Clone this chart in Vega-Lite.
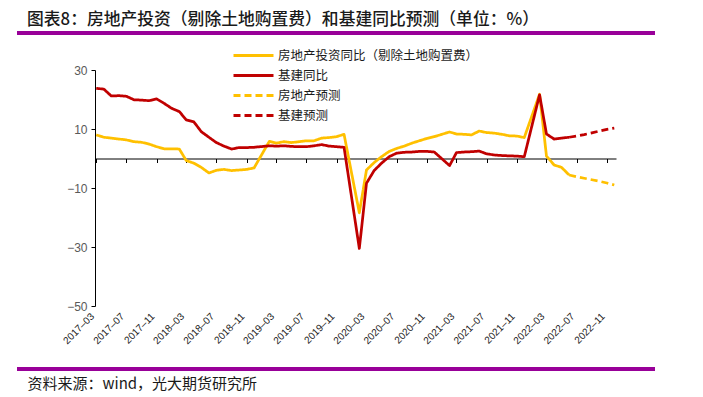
{
  "$schema": "https://vega.github.io/schema/vega-lite/v6.json",
  "width": 521,
  "height": 236,
  "autosize": {"type": "none"},
  "padding": {"left": 95, "top": 70, "right": 87, "bottom": 91},
  "background": "white",
  "title": {
    "text": "图表8：房地产投资（剔除土地购置费）和基建同比预测（单位：%）",
    "anchor": "start",
    "frame": "group",
    "dx": -68,
    "offset": 3,
    "font": "Noto Sans CJK SC",
    "fontSize": 16.8,
    "fontWeight": 500,
    "color": "#1a1a1a"
  },
  "config": {
    "view": {"stroke": null},
    "font": "Liberation Sans",
    "axis": {"labelOverlap": false},
    "axisX": {"labelOverlap": false, "labelSeparation": 0}
  },
  "data": {
    "values": [
      {"d": "2017-03-01", "re": 8.0, "inf": 23.8},
      {"d": "2017-04-01", "re": 7.2, "inf": 23.5},
      {"d": "2017-05-01", "re": 6.9, "inf": 21.2},
      {"d": "2017-06-01", "re": 6.6, "inf": 21.3},
      {"d": "2017-07-01", "re": 6.3, "inf": 21.1},
      {"d": "2017-08-01", "re": 5.7, "inf": 19.9},
      {"d": "2017-09-01", "re": 5.5, "inf": 19.8},
      {"d": "2017-10-01", "re": 4.9, "inf": 19.6},
      {"d": "2017-11-01", "re": 4.0, "inf": 20.2},
      {"d": "2017-12-01", "re": 3.3, "inf": 18.7},
      {"d": "2018-01-01", "re": 3.3, "inf": 17.0},
      {"d": "2018-02-01", "re": 3.2, "inf": 15.9},
      {"d": "2018-03-01", "re": -0.7, "inf": 13.1},
      {"d": "2018-04-01", "re": -1.6, "inf": 12.4},
      {"d": "2018-05-01", "re": -3.0, "inf": 9.1},
      {"d": "2018-06-01", "re": -4.9, "inf": 7.2},
      {"d": "2018-07-01", "re": -4.0, "inf": 5.4},
      {"d": "2018-08-01", "re": -3.7, "inf": 4.2},
      {"d": "2018-09-01", "re": -4.1, "inf": 3.2},
      {"d": "2018-10-01", "re": -3.9, "inf": 3.7},
      {"d": "2018-11-01", "re": -3.7, "inf": 3.7},
      {"d": "2018-12-01", "re": -3.2, "inf": 3.8},
      {"d": "2019-02-01", "re": 5.8, "inf": 4.3},
      {"d": "2019-03-01", "re": 5.2, "inf": 4.2},
      {"d": "2019-04-01", "re": 5.7, "inf": 4.3},
      {"d": "2019-05-01", "re": 5.4, "inf": 4.1},
      {"d": "2019-06-01", "re": 5.7, "inf": 4.0},
      {"d": "2019-07-01", "re": 6.0, "inf": 4.0},
      {"d": "2019-08-01", "re": 6.0, "inf": 4.3},
      {"d": "2019-09-01", "re": 6.9, "inf": 4.7},
      {"d": "2019-10-01", "re": 7.1, "inf": 4.2},
      {"d": "2019-11-01", "re": 7.4, "inf": 4.0},
      {"d": "2019-12-01", "re": 8.2, "inf": 3.8},
      {"d": "2020-02-01", "re": -18.4, "inf": -30.5},
      {"d": "2020-03-01", "re": -3.9, "inf": -8.4},
      {"d": "2020-04-01", "re": -1.4, "inf": -4.1},
      {"d": "2020-05-01", "re": 0.6, "inf": -1.6},
      {"d": "2020-06-01", "re": 2.4, "inf": 0.6},
      {"d": "2020-07-01", "re": 3.4, "inf": 1.8},
      {"d": "2020-08-01", "re": 4.2, "inf": 2.1},
      {"d": "2020-09-01", "re": 5.2, "inf": 2.2},
      {"d": "2020-10-01", "re": 6.0, "inf": 2.4},
      {"d": "2020-11-01", "re": 6.8, "inf": 2.4},
      {"d": "2020-12-01", "re": 7.4, "inf": 2.2},
      {"d": "2021-02-01", "re": 9.0, "inf": -2.4},
      {"d": "2021-03-01", "re": 8.3, "inf": 2.0},
      {"d": "2021-04-01", "re": 8.2, "inf": 2.2},
      {"d": "2021-05-01", "re": 8.0, "inf": 2.3},
      {"d": "2021-06-01", "re": 9.3, "inf": 2.5},
      {"d": "2021-07-01", "re": 8.8, "inf": 1.6},
      {"d": "2021-08-01", "re": 8.6, "inf": 1.2},
      {"d": "2021-09-01", "re": 8.2, "inf": 1.0},
      {"d": "2021-10-01", "re": 7.7, "inf": 0.9},
      {"d": "2021-11-01", "re": 7.6, "inf": 0.8},
      {"d": "2021-12-01", "re": 7.1, "inf": 0.6},
      {"d": "2022-02-01", "re": 21.8, "inf": 21.6},
      {"d": "2022-03-01", "re": 0.8, "inf": 8.3},
      {"d": "2022-04-01", "re": -2.2, "inf": 6.6},
      {"d": "2022-05-01", "re": -3.0, "inf": 6.9},
      {"d": "2022-06-01", "re": -5.6, "inf": 7.2, "ref": -5.6, "inff": 7.2},
      {"d": "2022-07-01", "ref": -6.2, "inff": 7.6},
      {"d": "2022-08-01", "ref": -6.7, "inff": 8.1},
      {"d": "2022-09-01", "ref": -7.2, "inff": 8.7},
      {"d": "2022-10-01", "ref": -7.7, "inff": 9.3},
      {"d": "2022-11-01", "ref": -8.3, "inff": 9.9},
      {"d": "2022-12-01", "ref": -9.0, "inff": 10.3}
    ]
  },
  "layer": [
    {
      "transform": [
        {"fold": ["re", "inf", "ref", "inff"], "as": ["s", "v"]},
        {"filter": "isValid(datum.v)"}
      ],
      "mark": {"type": "line", "strokeWidth": 2.75, "strokeCap": "butt", "strokeJoin": "round"},
      "encoding": {
        "x": {
          "field": "d",
          "type": "temporal",
          "scale": {
            "type": "utc",
            "domain": [
              {"year": 2017, "month": 2, "date": 24, "utc": true},
              {"year": 2022, "month": 12, "date": 8, "utc": true}
            ]
          },
          "axis": {
            "values": [1488326400000, 1498867200000, 1509494400000, 1519862400000, 1530403200000, 1541030400000, 1551398400000, 1561939200000, 1572566400000, 1583020800000, 1593561600000, 1604188800000, 1614556800000, 1625097600000, 1635724800000, 1646092800000, 1656633600000, 1667260800000],
            "tickCount": 30,
            "labelExpr": "utcFormat(datum.value, '%Y–%m')",
            "offset": -147.5,
            "domainColor": "#000000",
            "domainWidth": 1,
            "tickColor": "#000000",
            "tickSize": 4,
            "grid": false,
            "labelAngle": -45,
            "labelAlign": "right",
            "labelBaseline": "middle",
            "labelPadding": 152,
            "labelOffset": -4,
            "labelOverlap": false,
            "labelSeparation": 0,
            "labelBound": false,
            "labelFlush": false,
            "labelFont": "Liberation Sans",
            "labelFontSize": 10,
            "labelColor": "#222222",
            "title": "资料来源：wind，光大期货研究所",
            "titleFont": "Noto Sans CJK SC",
            "titleFontSize": 15,
            "titleFontWeight": "normal",
            "titleColor": "#1a1a1a",
            "titleAnchor": "start",
            "titleAlign": "left",
            "titleBaseline": "middle",
            "titleAngle": 0,
            "titleX": -68,
            "titleY": 225
          }
        },
        "y": {
          "field": "v",
          "type": "quantitative",
          "scale": {"domain": [-50, 30], "nice": false, "zero": false},
          "axis": {
            "values": [-50, -30, -10, 10, 30],
            "domainColor": "#000000",
            "tickColor": "#000000",
            "tickSize": 4,
            "grid": false,
            "labelFont": "Liberation Sans",
            "labelFontSize": 12,
            "labelColor": "#595959",
            "labelPadding": 4,
            "title": null
          }
        },
        "color": {
          "field": "s",
          "type": "nominal",
          "scale": {
            "domain": ["re", "inf", "ref", "inff"],
            "range": ["#FFC000", "#C00000", "#FFC000", "#C00000"]
          },
          "legend": {
            "orient": "none",
            "legendX": 152,
            "legendY": -21,
            "title": null,
            "padding": 0,
            "symbolType": "M-4,0H4",
            "symbolSize": 100,
            "symbolStrokeWidth": 3,
            "rowPadding": 7,
            "labelFont": "Noto Sans CJK SC",
            "labelFontSize": 12.5,
            "labelColor": "#1a1a1a",
            "labelLimit": 400,
            "labelOffset": 18,
            "labelExpr": "{'re':'房地产投资同比（剔除土地购置费）','inf':'基建同比','ref':'房地产预测','inff':'基建预测'}[datum.label]"
          }
        },
        "strokeDash": {
          "field": "s",
          "type": "nominal",
          "scale": {
            "domain": ["re", "inf", "ref", "inff"],
            "range": [[1, 0], [1, 0], [7, 4], [7, 4]]
          },
          "legend": {
            "orient": "none",
            "legendX": 152,
            "legendY": -21,
            "title": null,
            "padding": 0,
            "symbolType": "M-4,0H4",
            "symbolSize": 100,
            "symbolStrokeWidth": 3,
            "rowPadding": 7,
            "labelFont": "Noto Sans CJK SC",
            "labelFontSize": 12.5,
            "labelColor": "#1a1a1a",
            "labelLimit": 400,
            "labelOffset": 18,
            "labelExpr": "{'re':'房地产投资同比（剔除土地购置费）','inf':'基建同比','ref':'房地产预测','inff':'基建预测'}[datum.label]"
          }
        }
      }
    },
    {
      "mark": {"type": "rule", "color": "#990099", "strokeWidth": 3},
      "encoding": {
        "x": {"datum": {"year": 2016, "month": 4, "date": 16, "utc": true}, "type": "temporal"},
        "x2": {"datum": {"year": 2023, "month": 5, "date": 13, "utc": true}},
        "y": {"datum": 42.5, "type": "quantitative"}
      }
    },
    {
      "mark": {"type": "rule", "color": "#990099", "strokeWidth": 3},
      "encoding": {
        "x": {"datum": {"year": 2016, "month": 4, "date": 16, "utc": true}, "type": "temporal"},
        "x2": {"datum": {"year": 2023, "month": 5, "date": 13, "utc": true}},
        "y": {"datum": -71.3, "type": "quantitative"}
      }
    }
  ]
}
